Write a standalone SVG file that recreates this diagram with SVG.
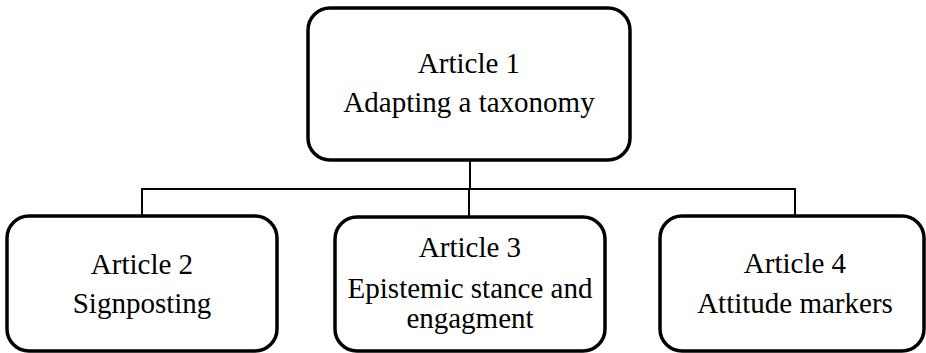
<svg xmlns="http://www.w3.org/2000/svg" width="926" height="353" viewBox="0 0 926 353">
<style>
.box{fill:#fff;stroke:#000;stroke-width:3.5}
.t{font-family:"Liberation Serif","Times New Roman",serif;font-size:29px;fill:#000;text-anchor:middle}
.c{fill:none;stroke:#000;stroke-width:2}
</style>
<rect width="926" height="353" fill="#fff"/>
<g id="connectors">
<line class="c" x1="470" y1="160" x2="470" y2="189"/>
<polyline class="c" points="142,215 142,189 795,189 795,215"/>
<line class="c" x1="469" y1="189" x2="469" y2="217"/>
</g>
<g id="article1">
<rect class="box" x="308" y="8" width="322" height="152" rx="22"/>
<text class="t" x="469" y="73">Article 1</text>
<text class="t" x="469" y="112">Adapting a taxonomy</text>
</g>
<g id="article2">
<rect class="box" x="7" y="216" width="270" height="135" rx="22"/>
<text class="t" x="142" y="274">Article 2</text>
<text class="t" x="142" y="313">Signposting</text>
</g>
<g id="article3">
<rect class="box" x="335" y="217" width="270" height="134" rx="22"/>
<text class="t" x="470" y="257">Article 3</text>
<text class="t" x="470" y="298">Epistemic stance and</text>
<text class="t" x="470" y="328">engagment</text>
</g>
<g id="article4">
<rect class="box" x="660" y="216" width="264" height="135" rx="22"/>
<text class="t" x="795" y="273">Article 4</text>
<text class="t" x="795" y="313">Attitude markers</text>
</g>
</svg>
